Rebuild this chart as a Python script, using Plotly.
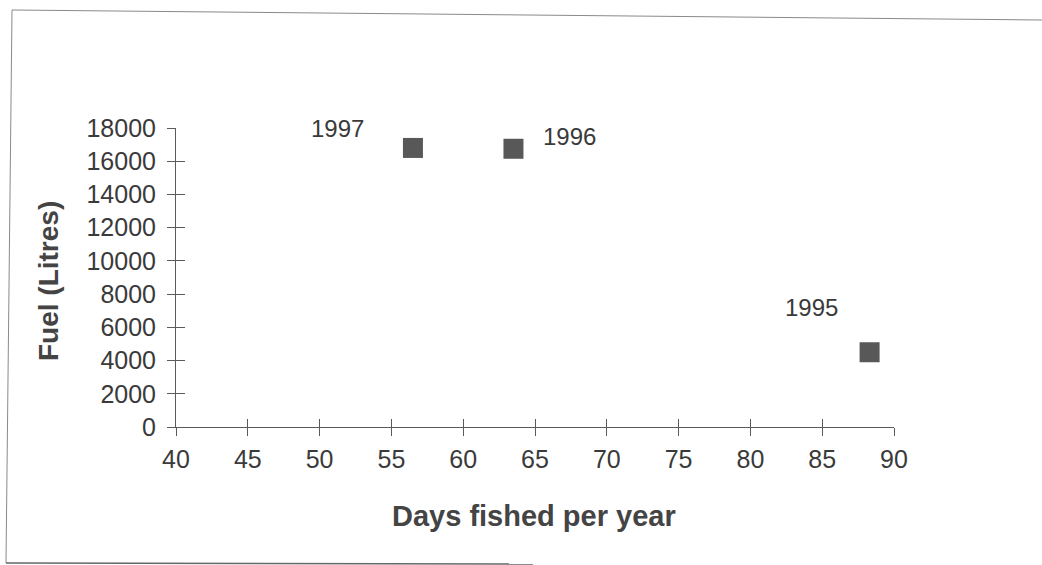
import plotly.graph_objects as go

# Data
years = ["1995", "1996", "1997"]
days_fished = [88.3, 63.5, 56.5]
fuel_litres = [4500, 16750, 16800]

x_ticks = [40, 45, 50, 55, 60, 65, 70, 75, 80, 85, 90]
y_ticks = [0, 2000, 4000, 6000, 8000, 10000, 12000, 14000, 16000, 18000]

# label offsets (pixels) relative to each point
label_shift = {"1995": (-58, 45), "1996": (56, 12), "1997": (-75, 19)}

FONT = "Liberation Sans, Arial, sans-serif"
TXT = "#3a3a3a"
AX = "#5a5a5a"

W, H = 1042, 565
L, R, T, B = 176, 148, 128, 138
PW, PH = W - L - R, H - T - B


def px(xp):
    return (xp - L) / PW


def py(yp):
    return (H - B - yp) / PH


fig = go.Figure()
fig.add_trace(go.Scatter(
    x=days_fished, y=fuel_litres, mode="markers",
    marker=dict(symbol="square", size=20, color="#585858", line=dict(width=0)),
    showlegend=False, hoverinfo="x+y",
))

axis_common = dict(showgrid=False, zeroline=False, showline=True,
                   linecolor=AX, linewidth=1, tickcolor=AX, tickwidth=1)

fig.update_layout(
    width=W, height=H,
    margin=dict(l=L, r=R, t=T, b=B, pad=0),
    paper_bgcolor="white", plot_bgcolor="white",
    font=dict(family=FONT, color=TXT),
    xaxis=dict(range=[40, 90], tickvals=x_ticks, ticktext=[str(v) for v in x_ticks],
               ticks="outside", ticklen=8, ticklabelstandoff=2,
               tickfont=dict(size=25, color=TXT), **axis_common),
    yaxis=dict(range=[0, 18000], tickvals=y_ticks, ticktext=[str(v) for v in y_ticks],
               ticks="outside", ticklen=8, ticklabelstandoff=6,
               tickfont=dict(size=25, color=TXT), **axis_common),
    xaxis2=dict(range=[40, 90], tickvals=x_ticks, overlaying="x", anchor="y", side="bottom",
                ticks="inside", ticklen=8, showticklabels=False, showline=False,
                showgrid=False, zeroline=False, tickcolor=AX, tickwidth=1),
    yaxis2=dict(range=[0, 18000], tickvals=y_ticks, overlaying="y", anchor="x", side="left",
                ticks="inside", ticklen=9, showticklabels=False, showline=False,
                showgrid=False, zeroline=False, tickcolor=AX, tickwidth=1),
)
# invisible trace so the overlay (inner tick) axes are drawn
fig.add_trace(go.Scatter(x=[None], y=[None], xaxis="x2", yaxis="y2",
                         showlegend=False, hoverinfo="skip"))

annotations = []
for yr, d, f in zip(years, days_fished, fuel_litres):
    dx, dy = label_shift[yr]
    annotations.append(dict(x=d, y=f, xref="x", yref="y", text=yr, showarrow=False,
                            xshift=dx, yshift=dy, font=dict(size=24, color=TXT)))

annotations.append(dict(x=px(534), y=py(516), xref="paper", yref="paper",
                        text="<b>Days fished per year</b>", showarrow=False,
                        xanchor="center", yanchor="middle",
                        font=dict(size=29, color="#444444")))
annotations.append(dict(x=px(48), y=py(281), xref="paper", yref="paper",
                        text="<b>Fuel (Litres)</b>", showarrow=False, textangle=-90,
                        xanchor="center", yanchor="middle",
                        font=dict(size=28, color="#444444")))
fig.update_layout(annotations=annotations)

# scanned frame border
border = "#8a8a8a"
shapes = [
    dict(type="line", xref="paper", yref="paper", x0=px(12), y0=py(10), x1=px(1042), y1=py(20),
         line=dict(color=border, width=1)),
    dict(type="line", xref="paper", yref="paper", x0=px(12), y0=py(10), x1=px(6), y1=py(563),
         line=dict(color=border, width=1)),
    dict(type="line", xref="paper", yref="paper", x0=px(6), y0=py(563), x1=px(533), y1=py(564),
         line=dict(color="#666666", width=1.5)),
]
fig.update_layout(shapes=shapes)

fig.write_html("out.html", config={"displayModeBar": False},
               post_script="document.body.style.margin='0';document.body.style.padding='0';")
